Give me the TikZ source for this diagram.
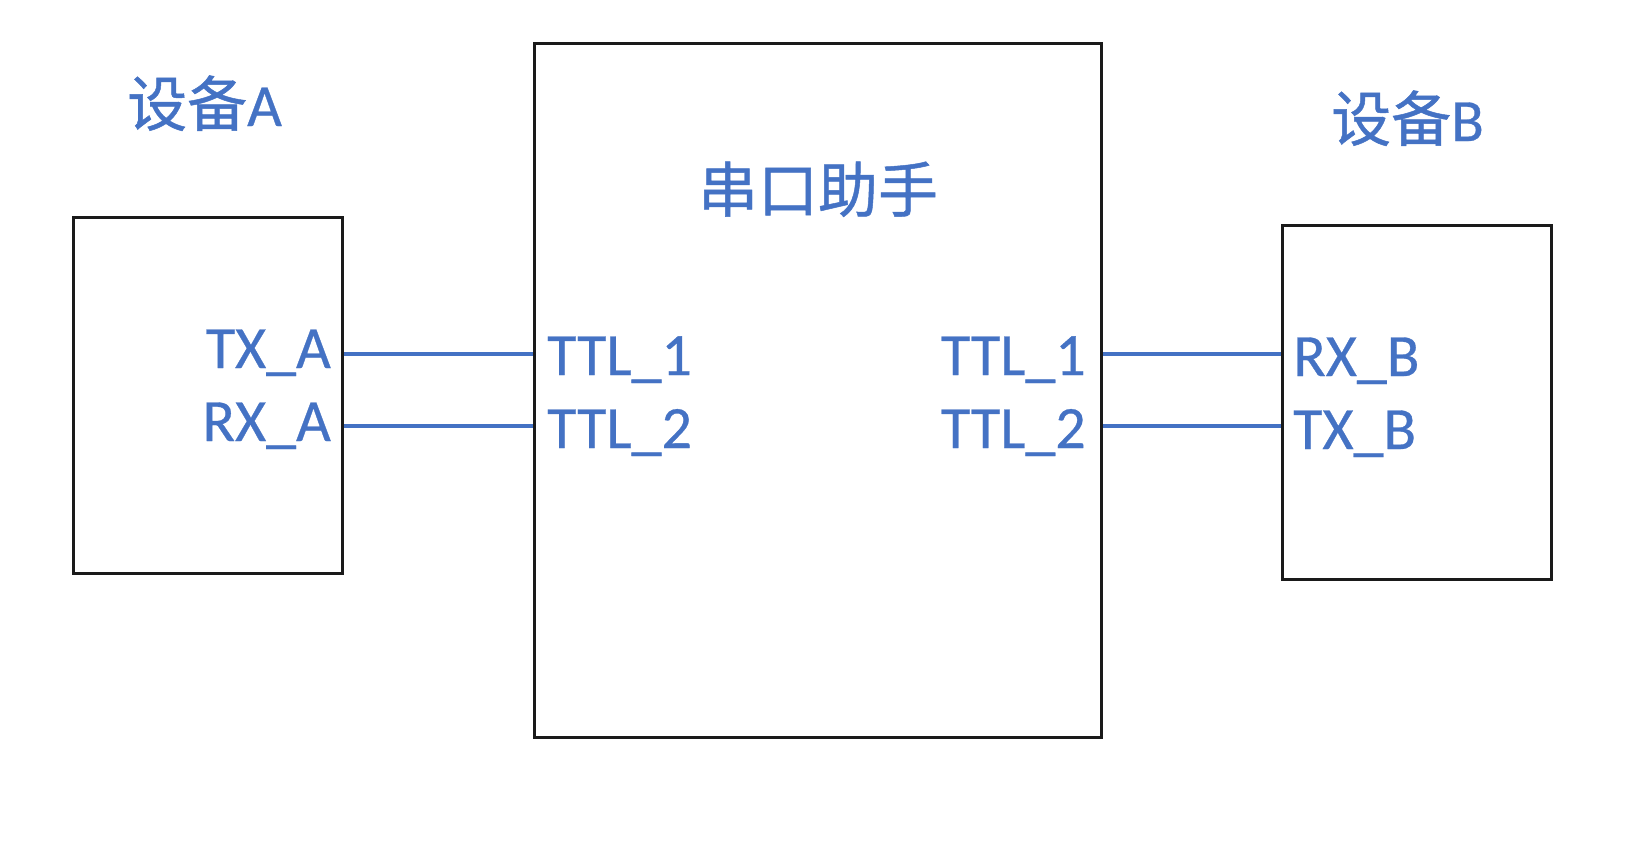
\documentclass[tikz,border=0pt]{standalone}
\usepackage{fontspec}
\setmainfont{Carlito}[FakeBold=0.5]
\newfontfamily\cjk{Noto Sans CJK SC}[FakeBold=0.8]
\definecolor{offblue}{HTML}{4472C4}
\definecolor{boxline}{HTML}{1A1A1A}
\tikzset{
  box/.style={draw=boxline, line width=3pt, fill=none, inner sep=0pt, anchor=north west},
  lbl/.style={text=offblue, inner sep=0pt, font=\fontsize{60}{60}\selectfont},
  wire/.style={draw=offblue, line width=3.2pt}
}
\begin{document}
\begin{tikzpicture}[x=1pt,y=-1pt]
\useasboundingbox[fill=white] (0,0) rectangle (1644,849);
% boxes
\node[box, minimum width=269pt, minimum height=356pt] (boxA) at (72,216) {};
\node[box, minimum width=567pt, minimum height=694pt] (main) at (533,42) {};
\node[box, minimum width=269pt, minimum height=354pt] (boxB) at (1281,224) {};
% titles
\node[lbl, anchor=base west] (devA) at (127,126) {{\cjk 设备}A};
\node[lbl, anchor=base west] (devB) at (1331,141) {{\cjk 设备}B};
\node[lbl, anchor=base] (helper) at (818,212) {\cjk 串口助手};
% pin labels
\node[lbl, anchor=base east] (txa) at (331,368) {TX\_A};
\node[lbl, anchor=base east] (rxa) at (331,441) {RX\_A};
\node[lbl, anchor=base west] (ttlLa) at (547,375) {TTL\_1};
\node[lbl, anchor=base west] (ttlLb) at (547,448) {TTL\_2};
\node[lbl, anchor=base east] (ttlRa) at (1086,375) {TTL\_1};
\node[lbl, anchor=base east] (ttlRb) at (1086,448) {TTL\_2};
\node[lbl, anchor=base west] (rxb) at (1293,376) {RX\_B};
\node[lbl, anchor=base west] (txb) at (1293,449) {TX\_B};
% wire levels
\coordinate (ya) at (0,354);
\coordinate (yb) at (0,426);
% wires
\draw[wire] (boxA.east |- ya) -- (main.west |- ya);
\draw[wire] (boxA.east |- yb) -- (main.west |- yb);
\draw[wire] (main.east |- ya) -- (boxB.west |- ya);
\draw[wire] (main.east |- yb) -- (boxB.west |- yb);
\end{tikzpicture}
\end{document}
